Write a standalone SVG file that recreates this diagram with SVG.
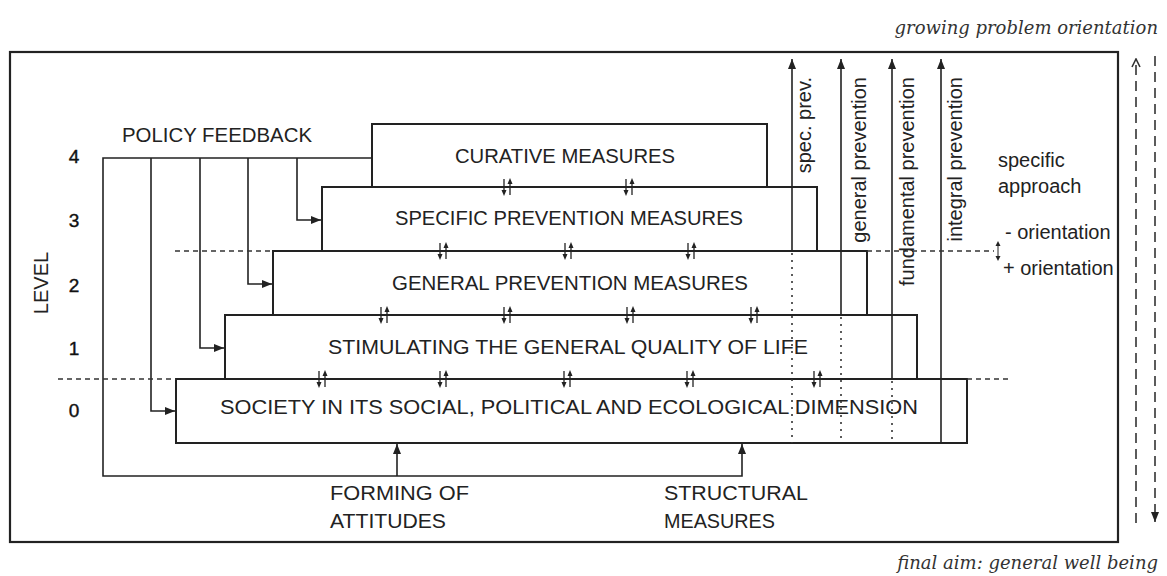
<svg xmlns="http://www.w3.org/2000/svg" width="1167" height="576" viewBox="0 0 1167 576">
<style>
.box{fill:#fff;stroke:#222;stroke-width:2}
.frame{fill:none;stroke:#222;stroke-width:2.2}
.ln{fill:none;stroke:#222;stroke-width:1.6}
.dot{fill:none;stroke:#333;stroke-width:1.6;stroke-dasharray:2,5}
.dash{fill:none;stroke:#333;stroke-width:1.4;stroke-dasharray:5,4}
.ldash{fill:none;stroke:#333;stroke-width:1.6;stroke-dasharray:10,6}
.t{font-family:"Liberation Sans",Arial,sans-serif;font-size:20px;fill:#222}
.s{font-family:"Liberation Sans",Arial,sans-serif;font-size:19px;fill:#111;stroke:#111;stroke-width:0.4}
.it{font-family:"DejaVu Serif","Liberation Serif",serif;font-style:italic;font-size:18px;fill:#333}
.mid{text-anchor:middle}
</style>
<defs>
<marker id="arr" viewBox="0 0 10 8" refX="10" refY="4" markerWidth="10" markerHeight="8" markerUnits="userSpaceOnUse" orient="auto">
<path d="M0,0 L10,4 L0,8 z" fill="#222"/>
</marker>
<marker id="chev" viewBox="0 0 10 10" refX="9" refY="5" markerWidth="10" markerHeight="10" markerUnits="userSpaceOnUse" orient="auto">
<path d="M1,1 L9,5 L1,9" fill="none" stroke="#333" stroke-width="1.6"/>
</marker>
<g id="dbl">
<line x1="-3" y1="-8" x2="-3" y2="4" stroke="#222" stroke-width="1.3"/>
<path d="M-5.5,3 L-0.5,3 L-3,9 z" fill="#222"/>
<line x1="3" y1="8" x2="3" y2="-4" stroke="#222" stroke-width="1.3"/>
<path d="M0.5,-3 L5.5,-3 L3,-9 z" fill="#222"/>
</g>
</defs>
<rect width="1167" height="576" fill="#fff"/>

<g id="frame">
<rect class="frame" x="10" y="52" width="1108" height="490"/>
</g>

<g id="box-society">
<rect class="box" x="176" y="379" width="791" height="64"/>
<text class="t mid" x="569" y="414" textLength="698" lengthAdjust="spacingAndGlyphs">SOCIETY IN ITS SOCIAL, POLITICAL AND ECOLOGICAL DIMENSION</text>
</g>
<g id="box-stimulating">
<rect class="box" x="225" y="315" width="692" height="64"/>
<text class="t mid" x="568" y="354" textLength="480" lengthAdjust="spacingAndGlyphs">STIMULATING THE GENERAL QUALITY OF LIFE</text>
</g>
<g id="box-general">
<rect class="box" x="273" y="251" width="594" height="64"/>
<text class="t mid" x="570" y="290" textLength="356" lengthAdjust="spacingAndGlyphs">GENERAL PREVENTION MEASURES</text>
</g>
<g id="box-specific">
<rect class="box" x="322" y="187" width="495" height="64"/>
<text class="t mid" x="569" y="225" textLength="348" lengthAdjust="spacingAndGlyphs">SPECIFIC PREVENTION MEASURES</text>
</g>
<g id="box-curative">
<rect class="box" x="372" y="124" width="395" height="63"/>
<text class="t mid" x="565" y="163" textLength="220" lengthAdjust="spacingAndGlyphs">CURATIVE MEASURES</text>
</g>

<g id="connectors">
<path class="ln" d="M372,158 H103 V476 H742 V444" marker-end="url(#arr)"/>
<path class="ln" d="M397,476 V444" marker-end="url(#arr)"/>
<path class="ln" d="M297,158 V220 H321" marker-end="url(#arr)"/>
<path class="ln" d="M248,158 V284 H272" marker-end="url(#arr)"/>
<path class="ln" d="M200,158 V348 H224" marker-end="url(#arr)"/>
<path class="ln" d="M151,158 V411 H175" marker-end="url(#arr)"/>
<path class="ln" d="M792,251 V59" marker-end="url(#arr)"/>
<path class="dot" d="M792,253 V443"/>
<path class="ln" d="M841,315 V59" marker-end="url(#arr)"/>
<path class="dot" d="M841,317 V443"/>
<path class="ln" d="M892,379 V59" marker-end="url(#arr)"/>
<path class="dot" d="M892,381 V443"/>
<path class="ln" d="M941,443 V59" marker-end="url(#arr)"/>
<path class="dash" d="M175,251 H273"/>
<path class="dash" d="M867,251 H994"/>
<path class="dash" d="M58,379 H176"/>
<path class="dash" d="M967,379 H1010"/>
<path d="M995.5,246 L1000.5,246 L998,241 z" fill="#222"/>
<path d="M995.5,256 L1000.5,256 L998,261 z" fill="#222"/>
<line x1="998" y1="246" x2="998" y2="256" stroke="#222" stroke-width="1"/>
<path class="ldash" d="M1136,523 V59" marker-end="url(#chev)"/>
<path class="ldash" d="M1155,56 V522" marker-end="url(#arr)"/>
<use href="#dbl" x="507" y="187"/>
<use href="#dbl" x="629" y="187"/>
<use href="#dbl" x="443" y="251"/>
<use href="#dbl" x="568" y="251"/>
<use href="#dbl" x="691" y="251"/>
<use href="#dbl" x="384" y="315"/>
<use href="#dbl" x="507" y="315"/>
<use href="#dbl" x="630" y="315"/>
<use href="#dbl" x="754" y="315"/>
<use href="#dbl" x="322" y="379"/>
<use href="#dbl" x="443" y="379"/>
<use href="#dbl" x="567" y="379"/>
<use href="#dbl" x="690" y="379"/>
<use href="#dbl" x="817" y="379"/>
</g>

<g id="labels">
<text class="t" x="122" y="142" textLength="190" lengthAdjust="spacingAndGlyphs">POLICY FEEDBACK</text>
<text class="s mid" x="74" y="163">4</text>
<text class="s mid" x="74" y="227">3</text>
<text class="s mid" x="74" y="292">2</text>
<text class="s mid" x="74" y="355">1</text>
<text class="s mid" x="74" y="417">0</text>
<text class="t mid" transform="translate(48,283) rotate(-90)">LEVEL</text>
<text class="t" x="330" y="500" textLength="139" lengthAdjust="spacingAndGlyphs">FORMING OF</text>
<text class="t" x="330" y="528" textLength="116" lengthAdjust="spacingAndGlyphs">ATTITUDES</text>
<text class="t" x="664" y="500" textLength="144" lengthAdjust="spacingAndGlyphs">STRUCTURAL</text>
<text class="t" x="664" y="528" textLength="111" lengthAdjust="spacingAndGlyphs">MEASURES</text>
<text class="t" text-anchor="end" transform="translate(811,77) rotate(-90)">spec. prev.</text>
<text class="t" text-anchor="end" transform="translate(866,77) rotate(-90)">general prevention</text>
<text class="t" text-anchor="end" transform="translate(914,77) rotate(-90)">fundamental prevention</text>
<text class="t" text-anchor="end" transform="translate(962,77) rotate(-90)">integral prevention</text>
<text class="t" x="998" y="167">specific</text>
<text class="t" x="998" y="193">approach</text>
<text class="t" x="1005" y="239">- orientation</text>
<text class="t" x="1003" y="275">+ orientation</text>
<text class="it" text-anchor="end" x="1158" y="34">growing problem orientation</text>
<text class="it" text-anchor="end" x="1158" y="569">final aim: general well being</text>
</g>
</svg>
